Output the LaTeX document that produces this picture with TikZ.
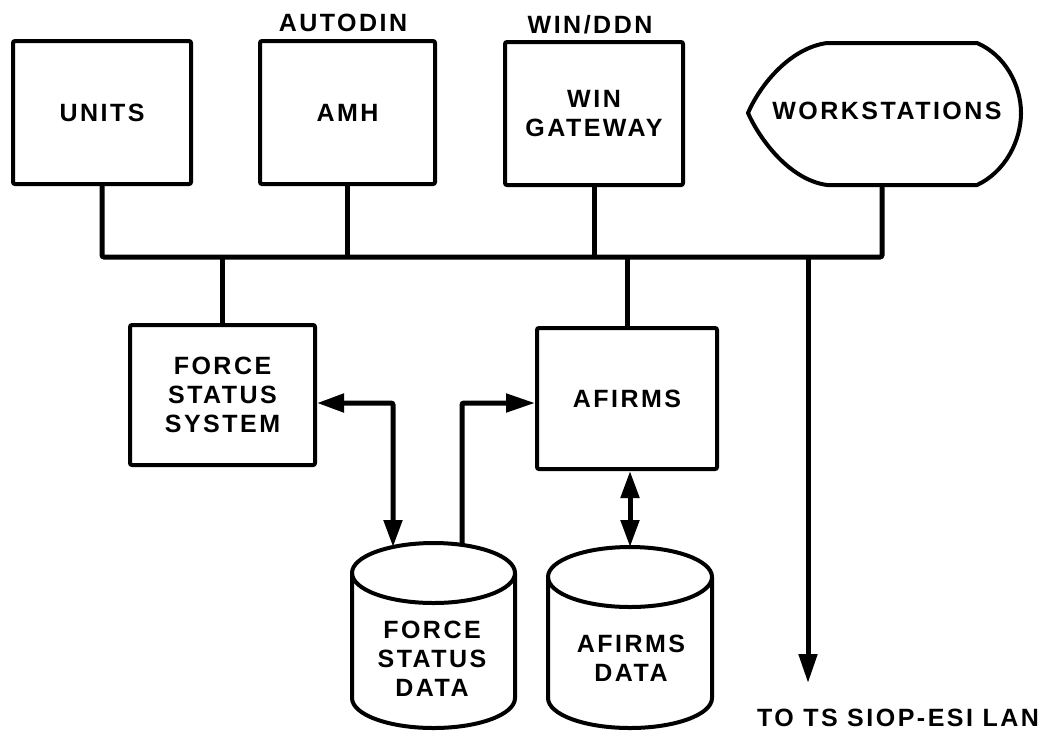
\documentclass[tikz,border=0pt]{standalone}
\usepackage{fontspec}
\setmainfont{Liberation Sans}[LetterSpace=10]
\usetikzlibrary{arrows.meta}
\begin{document}
\begin{tikzpicture}[x=1pt,y=-1pt,
  txt/.style={font=\bfseries\fontsize{25}{29}\selectfont, align=center, inner sep=0pt},
  box/.style={txt, draw, line width=4pt, rounded corners=2pt},
  outline/.style={line width=4pt, line join=round},
  conn/.style={line width=5pt, rounded corners=2pt},
  arr/.style={conn, -{Triangle[length=29pt,width=18pt]}},
  dbl/.style={conn, {Triangle[length=27pt,width=18pt]}-{Triangle[length=27pt,width=18pt]}}]
\useasboundingbox (0,0) rectangle (1059,732);

% top row
\node[box, minimum width=178pt, minimum height=143pt] (units) at (102,112.5) {UNITS};
\node[box, minimum width=175pt, minimum height=143pt] (amh) at (347.5,112.5) {AMH};
\node[txt] (autodin) at (343,23) {AUTODIN};
\node[box, minimum width=178pt, minimum height=143pt] (gw) at (594,113.5) {WIN\\GATEWAY};
\node[txt] (winddn) at (590,25) {WIN/DDN};

% workstations (display shape)
\draw[outline] (827,43) -- (977,43)
  .. controls (1005,55) and (1021,85) .. (1021,113)
  .. controls (1021,141) and (1005,172) .. (977,185)
  -- (827,185)
  .. controls (790,180) and (760,140) .. (748,113)
  .. controls (760,85) and (790,48) .. cycle;
\node[txt] (ws) at (887,111) {WORKSTATIONS};
\coordinate (wsb) at (882,185);

% middle row
\node[box, minimum width=185pt, minimum height=140pt] (fss) at (222.5,395) {FORCE\\STATUS\\SYSTEM};
\node[box, minimum width=180pt, minimum height=141pt] (afirms) at (627,398.5) {AFIRMS};

% cylinders
\draw[outline] (433.5,573) ellipse [x radius=81.5, y radius=30];
\draw[outline] (352,573) -- (352,698) arc[start angle=180, end angle=0, x radius=81.5, y radius=30] -- (515,573);
\node[txt] (fsd) at (432,659) {FORCE\\STATUS\\DATA};
\draw[outline] (630,577) ellipse [x radius=82, y radius=30];
\draw[outline] (548,577) -- (548,698) arc[start angle=180, end angle=0, x radius=82, y radius=30] -- (712,577);
\node[txt] (afd) at (631,658) {AFIRMS\\DATA};
\coordinate (fsdin) at (393,547);
\coordinate (fsdout) at (462,545);
\coordinate (afdtop) at (630,547);

% bus
\coordinate (busy) at (0,257);
\coordinate (busr) at (882,257);
\draw[conn] (units.south) |- (busr) -- (wsb);
\draw[conn] (amh.south) -- (amh.south |- busy);
\draw[conn] (gw.south) -- (gw.south |- busy);
\draw[conn] (fss.north) -- (fss.north |- busy);
\draw[conn] (afirms.north) -- (afirms.north |- busy);

% to LAN
\coordinate (lantop) at (808,257);
\coordinate (lantip) at (808,683);
\draw[arr] (lantop) -- (lantip);
\node[txt] (lan) at (898,718) {TO TS SIOP-ESI LAN};

% data flows
\coordinate (r1) at (0,403);
\draw[dbl] (fss.east |- r1) -| (fsdin);
\draw[arr] (fsdout) |- (afirms.west |- r1);
\draw[dbl] (afdtop |- afirms.south) -- (afdtop);
\end{tikzpicture}
\end{document}
